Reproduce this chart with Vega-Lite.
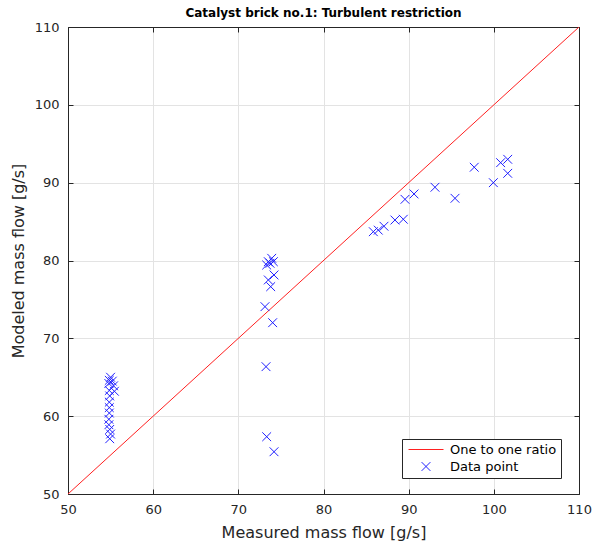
{
  "$schema": "https://vega.github.io/schema/vega-lite/v6.json",
  "width": 511,
  "height": 467,
  "autosize": {"type": "none"},
  "padding": {"left": 68, "top": 27, "right": 18, "bottom": 53},
  "title": {"text": "Catalyst brick no.1: Turbulent restriction", "fontSize": 12, "fontWeight": "bold", "font": "DejaVu Sans", "color": "#000000", "offset": 1},
  "config": {
    "font": "DejaVu Sans",
    "view": {"stroke": null},
    "axis": {
      "gridColor": "#e3e3e3", "gridOpacity": 1, "gridWidth": 1,
      "domainColor": "#262626", "domainWidth": 1,
      "tickColor": "#262626", "tickSize": -5, "tickWidth": 1,
      "labelColor": "#262626", "labelFontSize": 13, "labelPadding": 14, "labelFlush": false,
      "titleColor": "#262626", "titleFontSize": 16, "titleFontWeight": "normal"
    },
    "legend": {
      "orient": "none", "legendX": 334, "legendY": 412,
      "strokeColor": "#262626", "fillColor": "#ffffff", "padding": 4,
      "labelFontSize": 13, "labelColor": "#000000", "labelOffset": 31,
      "symbolSize": 64, "symbolStrokeWidth": 1, "rowPadding": 3, "cornerRadius": 0
    }
  },
  "datasets": {
    "d": [
      {"x": 50, "y": 50, "series": "One to one ratio"},
      {"x": 110, "y": 110, "series": "One to one ratio"},
      {"x": 55.0, "y": 65.0, "series": "Data point"},
      {"x": 54.85, "y": 64.6, "series": "Data point"},
      {"x": 55.2, "y": 64.5, "series": "Data point"},
      {"x": 54.8, "y": 64.2, "series": "Data point"},
      {"x": 55.35, "y": 63.9, "series": "Data point"},
      {"x": 55.45, "y": 63.2, "series": "Data point"},
      {"x": 54.85, "y": 63.3, "series": "Data point"},
      {"x": 54.9, "y": 62.6, "series": "Data point"},
      {"x": 54.85, "y": 61.8, "series": "Data point"},
      {"x": 54.85, "y": 61.1, "series": "Data point"},
      {"x": 54.85, "y": 60.4, "series": "Data point"},
      {"x": 54.8, "y": 59.6, "series": "Data point"},
      {"x": 54.8, "y": 58.9, "series": "Data point"},
      {"x": 54.9, "y": 58.3, "series": "Data point"},
      {"x": 55.0, "y": 57.7, "series": "Data point"},
      {"x": 54.9, "y": 57.1, "series": "Data point"},
      {"x": 73.92, "y": 80.28, "series": "Data point"},
      {"x": 73.52, "y": 79.85, "series": "Data point"},
      {"x": 74.11, "y": 79.85, "series": "Data point"},
      {"x": 73.33, "y": 79.42, "series": "Data point"},
      {"x": 73.72, "y": 79.64, "series": "Data point"},
      {"x": 74.19, "y": 78.14, "series": "Data point"},
      {"x": 73.52, "y": 77.5, "series": "Data point"},
      {"x": 73.8, "y": 76.64, "series": "Data point"},
      {"x": 73.13, "y": 74.07, "series": "Data point"},
      {"x": 74.03, "y": 72.01, "series": "Data point"},
      {"x": 73.25, "y": 66.36, "series": "Data point"},
      {"x": 73.33, "y": 57.36, "series": "Data point"},
      {"x": 74.19, "y": 55.43, "series": "Data point"},
      {"x": 85.85, "y": 83.7, "series": "Data point"},
      {"x": 86.43, "y": 83.9, "series": "Data point"},
      {"x": 87.1, "y": 84.4, "series": "Data point"},
      {"x": 88.39, "y": 85.2, "series": "Data point"},
      {"x": 89.37, "y": 85.3, "series": "Data point"},
      {"x": 89.57, "y": 87.86, "series": "Data point"},
      {"x": 90.63, "y": 88.55, "series": "Data point"},
      {"x": 93.09, "y": 89.41, "series": "Data point"},
      {"x": 95.44, "y": 87.99, "series": "Data point"},
      {"x": 97.7, "y": 91.98, "series": "Data point"},
      {"x": 99.94, "y": 90.0, "series": "Data point"},
      {"x": 100.8, "y": 92.57, "series": "Data point"},
      {"x": 101.63, "y": 93.0, "series": "Data point"},
      {"x": 101.63, "y": 91.2, "series": "Data point"}
    ]
  },
  "data": {"name": "d"},
  "layer": [
    {
      "transform": [{"filter": "datum.series === 'One to one ratio'"}],
      "mark": {"type": "line", "strokeWidth": 1},
      "encoding": {
        "x": {"field": "x", "type": "quantitative", "scale": {"domain": [50, 110], "nice": false, "zero": false},
              "axis": {"orient": "bottom", "values": [50, 60, 70, 80, 90, 100, 110], "title": "Measured mass flow [g/s]", "titlePadding": 8}},
        "y": {"field": "y", "type": "quantitative", "scale": {"domain": [50, 110], "nice": false, "zero": false},
              "axis": {"orient": "left", "values": [50, 60, 70, 80, 90, 100, 110], "title": "Modeled mass flow [g/s]", "titlePadding": 8}},
        "color": {"field": "series", "type": "nominal",
                  "scale": {"domain": ["One to one ratio", "Data point"], "range": ["#ff2020", "#2020ff"]},
                  "legend": {"title": null,
                             "encode": {"symbols": {"update": {
                               "shape": {"signal": "datum.value === 'One to one ratio' ? 'M-1,0L7.75,0' : 'M2.275,-1.1L4.475,1.1M2.275,1.1L4.475,-1.1'"},
                               "fill": {"value": "transparent"},
                               "strokeWidth": {"value": 1}
                             }}}}}
      }
    },
    {
      "transform": [{"filter": "datum.series === 'Data point'"}],
      "mark": {"type": "point", "filled": false, "size": 64, "strokeWidth": 1, "opacity": 1,
               "shape": "M-1.1,-1.1L1.1,1.1M-1.1,1.1L1.1,-1.1"},
      "encoding": {
        "x": {"field": "x", "type": "quantitative", "scale": {"domain": [50, 110], "nice": false, "zero": false},
              "axis": {"orient": "top", "values": [50, 60, 70, 80, 90, 100, 110], "labels": false, "title": null, "grid": false}},
        "y": {"field": "y", "type": "quantitative", "scale": {"domain": [50, 110], "nice": false, "zero": false},
              "axis": {"orient": "right", "values": [50, 60, 70, 80, 90, 100, 110], "labels": false, "title": null, "grid": false}},
        "color": {"field": "series", "type": "nominal",
                  "scale": {"domain": ["One to one ratio", "Data point"], "range": ["#ff2020", "#2020ff"]},
                  "legend": {"title": null}}
      }
    }
  ],
  "resolve": {"axis": {"x": "independent", "y": "independent"}}
}
